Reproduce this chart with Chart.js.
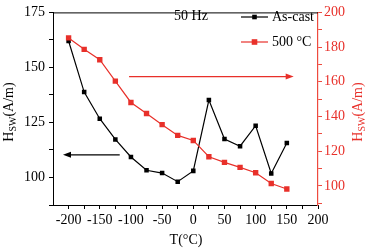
<!DOCTYPE html>
<html>
<head>
<meta charset="utf-8">
<script src="https://cdn.jsdelivr.net/npm/chart.js@4"></script>
<style>
  html, body { margin: 0; padding: 0; background: #fff; }
  #wrap { width: 370px; height: 250px; }
</style>
</head>
<body>
<div id="wrap"><canvas id="myChart" width="370" height="250"></canvas></div>
<script>
// temperatures (°C)
var temps = [-200, -175, -150, -125, -100, -75, -50, -25, 0, 25, 50, 75, 100, 125, 150];
// H_SW values
var asCast = [162, 138.8, 126.7, 117.3, 109.3, 103.3, 102, 98.1, 103, 135.2, 117.5, 114.2, 123.5, 101.8, 115.7];
var annealed = [185.3, 178.7, 172.7, 160.4, 148.1, 141.7, 135.3, 129.1, 126.2, 116.8, 113.6, 110.7, 107.6, 101.4, 98.2];
var seriesNames = ['As-cast', '500 °C'];
var xTicks = [-200, -175, -150, -125, -100, -75, -50, -25, 0, 25, 50, 75, 100, 125, 150, 175, 200];
var leftTicks = [87.5, 100, 112.5, 125, 137.5, 150, 162.5, 175];
var rightTicks = [90, 100, 110, 120, 130, 140, 150, 160, 170, 180, 190, 200];

var RED = '#e8302a';
var AXRED = '#ee4a3e';
var FONT = '"Liberation Serif", "Times New Roman", serif';

function pts(ys) {
  return temps.map(function (t, i) { return { x: t, y: ys[i] }; });
}

var ctx = document.getElementById('myChart').getContext('2d');

// titles, legend, arrows drawn on top
var extras = {
  id: 'extras',
  afterDraw: function (chart) {
    var c = chart.ctx, a = chart.chartArea;
    var sx = chart.scales.x, yl = chart.scales.y, yr = chart.scales.y1;
    c.save();

    // top frame line
    c.strokeStyle = '#000';
    c.lineWidth = 1;
    c.beginPath();
    c.moveTo(a.left, a.top + 0.5);
    c.lineTo(a.right, a.top + 0.5);
    c.stroke();

    // rotated H_SW(A/m) titles
    function hTitle(x, y, color) {
      c.save();
      c.translate(x, y);
      c.rotate(-Math.PI / 2);
      c.fillStyle = color;
      c.textBaseline = 'middle';
      c.textAlign = 'left';
      c.font = '14px ' + FONT;
      var w1 = c.measureText('H').width;
      var w3 = c.measureText('(A/m)').width;
      c.font = '10px ' + FONT;
      var w2 = c.measureText('SW').width;
      var x0 = -(w1 + w2 + w3) / 2;
      c.font = '14px ' + FONT;
      c.fillText('H', x0, 0);
      c.font = '10px ' + FONT;
      c.fillText('SW', x0 + w1, 4);
      c.font = '14px ' + FONT;
      c.fillText('(A/m)', x0 + w1 + w2, 0);
      c.restore();
    }
    hTitle(9, 112, '#000');
    hTitle(358, 112, RED);

    c.font = '14px ' + FONT;
    c.fillStyle = '#000';
    c.textAlign = 'center';
    c.textBaseline = 'middle';
    c.fillText('T(°C)', 186, 240);
    c.fillText('50 Hz', 191, 16);

    // legend
    var rows = [
      { label: seriesNames[0], color: '#000', y: 17, r: 2.3 },
      { label: seriesNames[1], color: RED, y: 42, r: 2.8 }
    ];
    rows.forEach(function (r) {
      c.strokeStyle = r.color;
      c.fillStyle = r.color;
      c.lineWidth = 1.2;
      c.beginPath();
      c.moveTo(241, r.y);
      c.lineTo(268, r.y);
      c.stroke();
      c.fillRect(254.5 - r.r, r.y - r.r, 2 * r.r, 2 * r.r);
      c.fillStyle = '#000';
      c.textAlign = 'left';
      c.fillText(r.label, 272, r.y);
    });

    // arrows pointing to the axes
    function arrow(x1, y1, x2, color) {
      var dir = x2 > x1 ? 1 : -1;
      c.strokeStyle = color;
      c.fillStyle = color;
      c.lineWidth = 1.2;
      c.beginPath();
      c.moveTo(x1, y1);
      c.lineTo(x2 - dir * 6, y1);
      c.stroke();
      c.beginPath();
      c.moveTo(x2, y1);
      c.lineTo(x2 - dir * 8, y1 - 3);
      c.lineTo(x2 - dir * 8, y1 + 3);
      c.closePath();
      c.fill();
    }
    arrow(sx.getPixelForValue(-103), yr.getPixelForValue(163), sx.getPixelForValue(161), RED);
    arrow(sx.getPixelForValue(-118), yl.getPixelForValue(110.3), sx.getPixelForValue(-209), '#000');

    c.restore();
  }
};

function setTicks(list) {
  return function (scale) {
    scale.ticks = list.map(function (v) { return { value: v }; });
  };
}

var chart = new Chart(ctx, {
  type: 'line',
  data: {
    datasets: [{
      label: seriesNames[1],
      data: pts(annealed),
      yAxisID: 'y1',
      borderColor: RED,
      backgroundColor: RED,
      borderWidth: 1.2,
      pointStyle: 'rect',
      pointRadius: 3.8,
      pointBorderWidth: 0,
      tension: 0,
      order: 0
    }, {
      label: seriesNames[0],
      data: pts(asCast),
      yAxisID: 'y',
      borderColor: '#000',
      backgroundColor: '#000',
      borderWidth: 1.2,
      pointStyle: 'rect',
      pointRadius: 3.2,
      pointBorderWidth: 0,
      tension: 0,
      order: 1
    }]
  },
  options: {
    responsive: false,
    animation: false,
    events: [],
    layout: { padding: { top: 9, left: 0, right: 0, bottom: 0 } },
    plugins: { legend: { display: false }, tooltip: { enabled: false } },
    scales: {
      x: {
        type: 'linear',
        min: -225,
        max: 200,
        afterBuildTicks: setTicks(xTicks),
        afterFit: function (s) { s.height = 45; },
        border: { color: '#000', width: 1 },
        grid: { drawOnChartArea: false, tickLength: 4, color: '#000' },
        ticks: {
          color: '#000',
          padding: 3,
          maxRotation: 0,
          autoSkip: false,
          font: { family: FONT, size: 14 },
          callback: function (v) { return v % 50 === 0 ? v : ''; }
        }
      },
      y: {
        position: 'left',
        min: 87.5,
        max: 175,
        afterBuildTicks: setTicks(leftTicks),
        afterFit: function (s) { s.width = 53; },
        border: { color: '#000', width: 1 },
        grid: { drawOnChartArea: false, tickLength: 4, color: '#000' },
        ticks: {
          color: '#000',
          padding: 4,
          autoSkip: false,
          font: { family: FONT, size: 14 },
          callback: function (v) { return v % 25 === 0 ? v : ''; }
        }
      },
      y1: {
        position: 'right',
        min: 89,
        max: 200,
        afterBuildTicks: setTicks(rightTicks),
        afterFit: function (s) { s.width = 52; },
        border: { color: AXRED, width: 1.2 },
        grid: { drawOnChartArea: false, tickLength: 4, color: AXRED },
        ticks: {
          color: RED,
          padding: 2,
          autoSkip: false,
          font: { family: FONT, size: 14 },
          callback: function (v) { return v % 20 === 0 ? v : ''; }
        }
      }
    }
  },
  plugins: [extras]
});
</script>
</body>
</html>
